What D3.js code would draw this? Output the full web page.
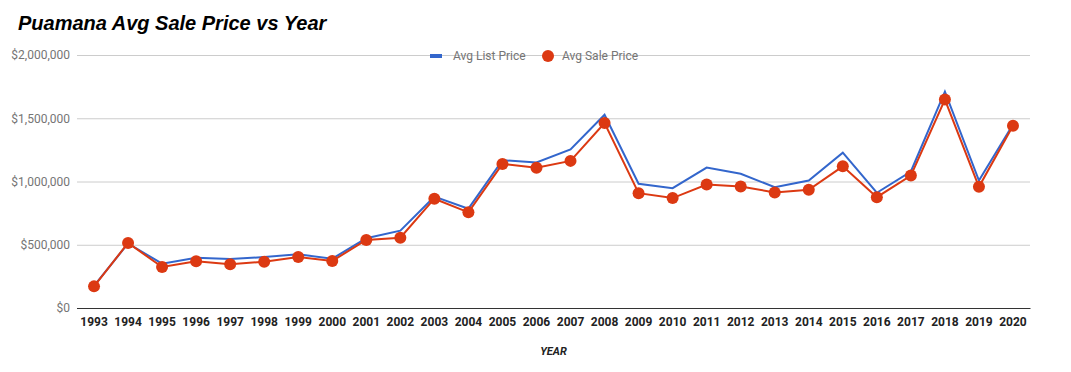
<!DOCTYPE html>
<html>
<head>
<meta charset="utf-8">
<script src="https://cdn.jsdelivr.net/npm/d3@7"></script>
<style>
    body { margin: 0; background: #fff; }
    svg { display: block; font-family: Roboto, sans-serif; }
</style>
</head>
<body>
<div id="chart"></div>
<script>
const years = d3.range(1993, 2021).map(String);
const listPrice = [175000, 510000, 350000, 398000, 387000, 403000, 424000, 390000, 551000, 611000,
    880000, 785000, 1168000, 1150000, 1254000, 1528000, 982000, 947000, 1110000, 1061000,
    955000, 1008000, 1228000, 911000, 1079000, 1711000, 1008000, 1450000];
const salePrice = [171000, 514000, 324000, 369000, 345000, 366000, 403000, 372000, 538000, 556000,
    864000, 756000, 1139000, 1108000, 1163000, 1462000, 908000, 869000, 976000, 961000,
    913000, 934000, 1120000, 876000, 1047000, 1648000, 958000, 1440000];
const yTicks = [0, 500000, 1000000, 1500000, 2000000];

const margin = { top: 55, right: 41, bottom: 64, left: 77 };
const width = 1071 - margin.left - margin.right;
const height = 372 - margin.top - margin.bottom;

const svg = d3.select('#chart')
    .append('svg')
    .attr('width', 1071)
    .attr('height', 372);

svg.append('text')
    .attr('x', 18)
    .attr('y', 30)
    .style('font-family', '"Liberation Sans", Arial, sans-serif')
    .style('font-size', '20px')
    .style('font-weight', 'bold')
    .style('font-style', 'italic')
    .attr('fill', '#000')
    .text('Puamana Avg Sale Price vs Year');

const g = svg.append('g').attr('transform', `translate(${margin.left},${margin.top})`);

const x = d3.scaleBand().domain(years).range([0, width]);
const y = d3.scaleLinear().domain([0, 2000000]).range([height, 0]);
const cx = d => x(d) + x.bandwidth() / 2;

// gridlines + y labels
const yAxis = g.append('g')
    .call(d3.axisLeft(y).tickValues(yTicks).tickSize(-width).tickPadding(7)
        .tickFormat(d => '$' + d3.format(',')(d)));
yAxis.select('.domain').remove();
yAxis.selectAll('line').attr('stroke', d => d === 0 ? '#333' : '#ccc');
yAxis.selectAll('text')
    .attr('fill', '#757575')
    .style('font-size', '12px')
    .style('font-family', 'Roboto, sans-serif');

const xAxis = g.append('g')
    .attr('transform', `translate(0,${height})`)
    .call(d3.axisBottom(x).tickSize(0).tickPadding(9));
xAxis.select('.domain').attr('stroke', '#333');
xAxis.selectAll('text')
    .attr('fill', '#222')
    .style('font-size', '12px')
    .style('font-weight', 'bold')
    .style('font-family', 'Roboto, sans-serif');

svg.append('text')
    .attr('x', margin.left + width / 2)
    .attr('y', 355)
    .attr('text-anchor', 'middle')
    .style('font-size', '11px')
    .style('font-weight', 'bold')
    .style('font-style', 'italic')
    .attr('fill', '#222')
    .text('YEAR');

const line = d3.line().x((d, i) => cx(years[i])).y(d => y(d));

g.append('path')
    .datum(listPrice)
    .attr('fill', 'none')
    .attr('stroke', '#3366cc')
    .attr('stroke-width', 2)
    .attr('d', line);

g.append('path')
    .datum(salePrice)
    .attr('fill', 'none')
    .attr('stroke', '#dc3912')
    .attr('stroke-width', 2)
    .attr('d', line);

g.selectAll('.dot')
    .data(salePrice)
    .enter()
    .append('circle')
    .attr('class', 'dot')
    .attr('cx', (d, i) => cx(years[i]))
    .attr('cy', d => y(d))
    .attr('r', 6)
    .attr('fill', '#dc3912');

// legend
const legend = svg.append('g').attr('transform', 'translate(0,56)');
legend.append('rect')
    .attr('x', 430).attr('y', -2)
    .attr('width', 12).attr('height', 4)
    .attr('fill', '#3366cc');
legend.append('text')
    .attr('x', 453).attr('y', 4)
    .style('font-size', '12px')
    .attr('fill', '#757575')
    .text('Avg List Price');
legend.append('circle')
    .attr('cx', 548).attr('cy', 0).attr('r', 6)
    .attr('fill', '#dc3912');
legend.append('text')
    .attr('x', 562).attr('y', 4)
    .style('font-size', '12px')
    .attr('fill', '#757575')
    .text('Avg Sale Price');
</script>
</body>
</html>
